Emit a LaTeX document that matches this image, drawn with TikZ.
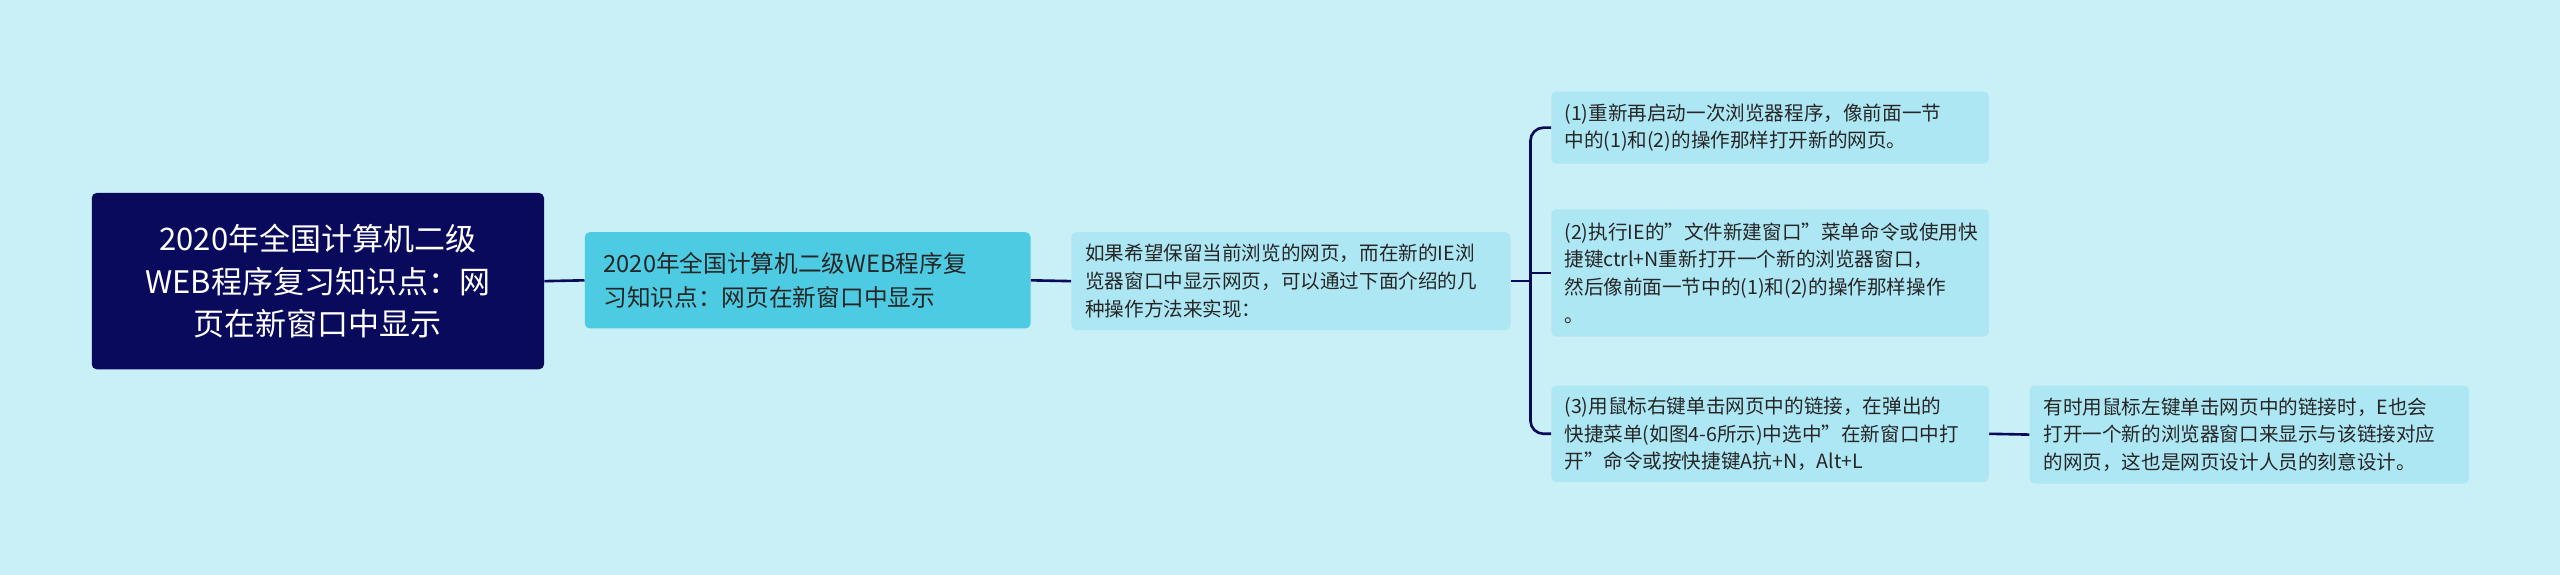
\documentclass[tikz,border=0pt]{standalone}
\usepackage{fontspec}
\setmainfont{Noto Sans CJK SC}
\begin{document}
\begin{tikzpicture}[x=1pt,y=-1pt,
  box/.style={rounded corners=3pt,anchor=north west,inner sep=0pt},
  leaf/.style={box,fill=leafc,font=\fontsize{12}{17}\selectfont,text=black!85,align=left},
  conn/.style={draw=linec,line width=1.6pt}]
\definecolor{bg}{HTML}{C9EFF7}
\definecolor{rootc}{HTML}{0A0A5C}
\definecolor{l1c}{HTML}{4CCBE2}
\definecolor{leafc}{HTML}{AEE7F4}
\definecolor{linec}{HTML}{0A0A5C}
\fill[bg] (0,0) rectangle (1568,352);
\useasboundingbox (0,0) rectangle (1568,352);
\node[box,fill=rootc,text=white,minimum width=277,minimum height=108,align=center,font=\fontsize{19}{26}\selectfont] (root) at (56,118) {2020年全国计算机二级\\WEB程序复习知识点：网\\页在新窗口中显示};
\node[box,fill=l1c,text=black!85,minimum width=273,minimum height=59,align=left,font=\fontsize{14.5}{21}\selectfont] (l1) at (358,142) {\hspace{8pt}\parbox{258pt}{2020年全国计算机二级WEB程序复\\习知识点：网页在新窗口中显示}};
\node[leaf,minimum width=269,minimum height=60] (l2) at (656,142) {\hspace{6pt}\parbox{258pt}{如果希望保留当前浏览的网页，而在新的IE浏\\览器窗口中显示网页，可以通过下面介绍的几\\种操作方法来实现：}};
\node[leaf,minimum width=268,minimum height=44] (a) at (950,56) {\hspace{6pt}\parbox{258pt}{(1)重新再启动一次浏览器程序，像前面一节\\中的(1)和(2)的操作那样打开新的网页。}};
\node[leaf,minimum width=268,minimum height=78] (b) at (950,128) {\hspace{6pt}\parbox{258pt}{(2)执行IE的"文件新建窗口"菜单命令或使用快\\捷键ctrl+N重新打开一个新的浏览器窗口，\\然后像前面一节中的(1)和(2)的操作那样操作\\。}};
\node[leaf,minimum width=268,minimum height=59] (c) at (950,236) {\hspace{6pt}\parbox{258pt}{(3)用鼠标右键单击网页中的链接，在弹出的\\快捷菜单(如图4-6所示)中选中"在新窗口中打\\开"命令或按快捷键A抗+N，Alt+L}};
\node[leaf,minimum width=269,minimum height=60] (d) at (1243,236) {\hspace{6pt}\parbox{258pt}{有时用鼠标左键单击网页中的链接时，E也会\\打开一个新的浏览器窗口来显示与该链接对应\\的网页，这也是网页设计人员的刻意设计。}};
\draw[conn] (root.east) -- (l1.west);
\draw[conn] (l1.east) -- (l2.west);
\coordinate (j) at ([xshift=12pt]l2.east);
\draw[conn] (l2.east) -- (j);
\draw[conn,rounded corners=8pt] (j) |- (a.west);
\draw[conn,rounded corners=8pt] (j) |- (c.west);
\draw[conn] (j) -- (j |- b.west) -- (b.west);
\draw[conn] (c.east) -- (d.west);
\end{tikzpicture}
\end{document}
